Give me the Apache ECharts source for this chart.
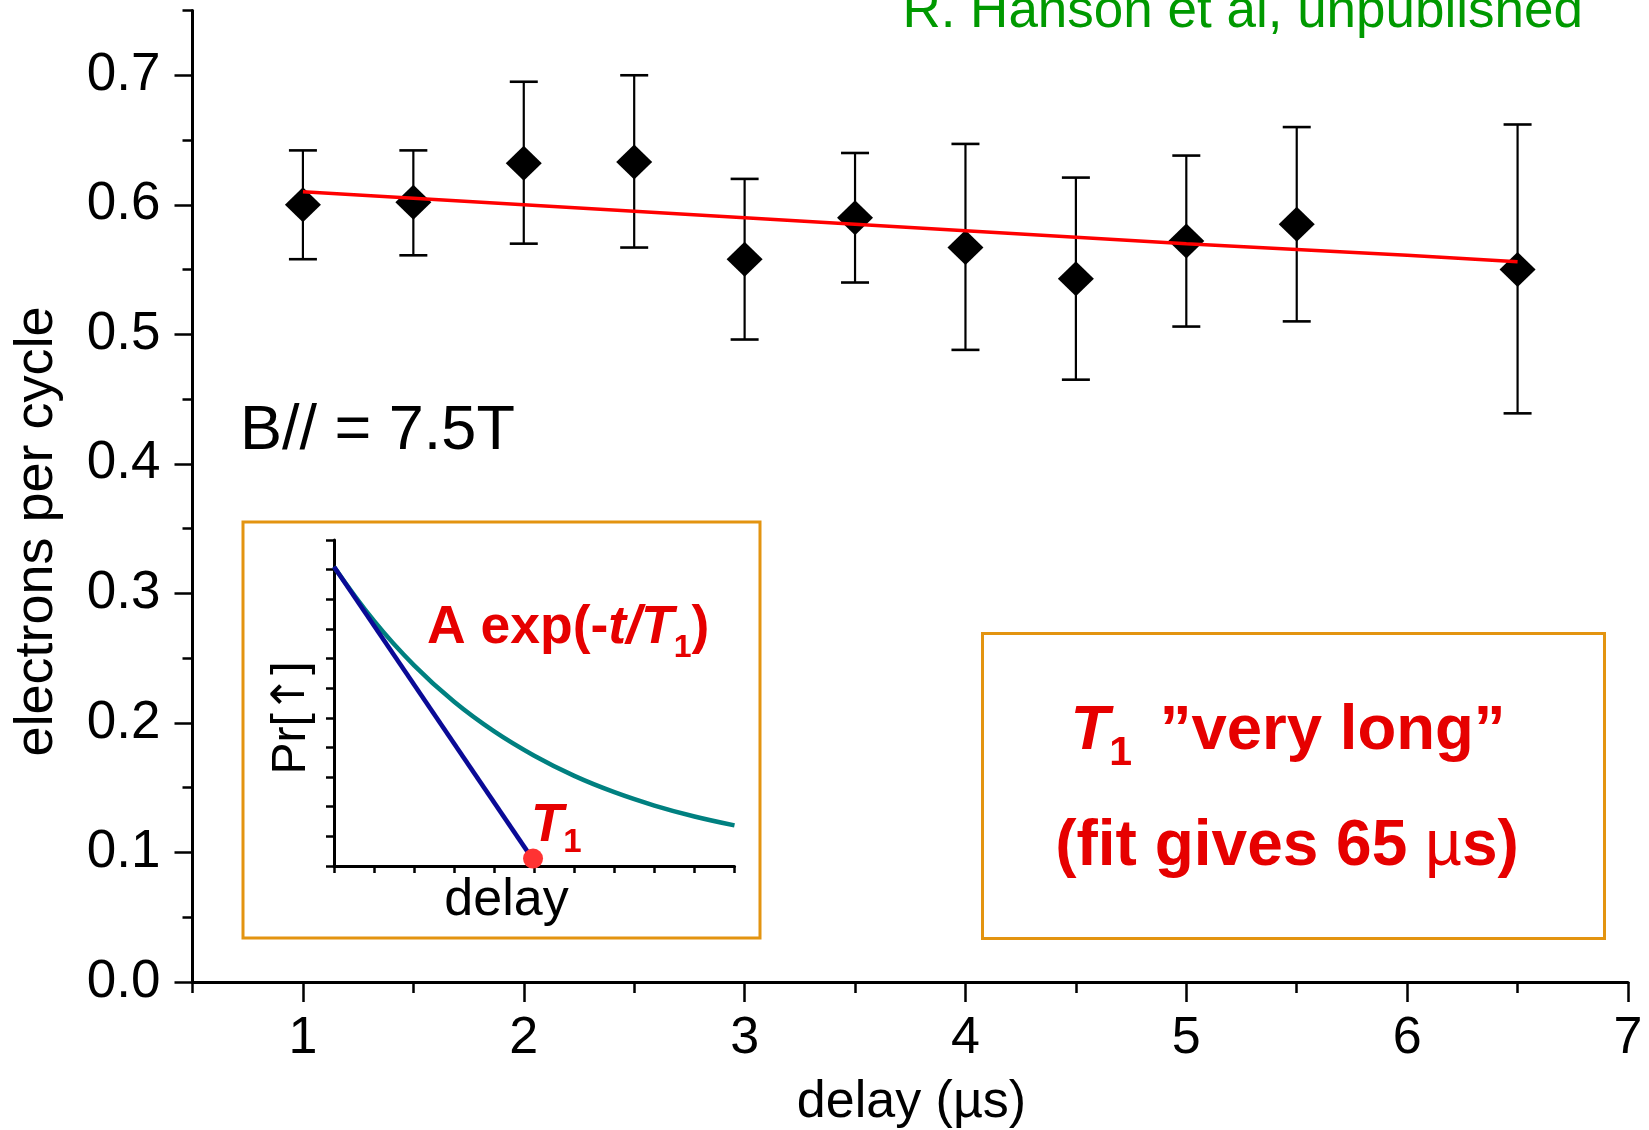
<!DOCTYPE html>
<html>
<head>
<meta charset="utf-8">
<script src="https://cdn.jsdelivr.net/npm/echarts@6/dist/echarts.min.js"></script>
<style>
  html, body { margin: 0; padding: 0; background: #fff; }
  #chart { width: 1649px; height: 1130px; }
</style>
</head>
<body>
<div id="chart"></div>
<script>
// ---------------- data ----------------
const delays     = [1, 1.5, 2, 2.5, 3, 3.5, 4, 4.5, 5, 5.5, 6.5];
const electrons  = [0.600, 0.602, 0.632, 0.633, 0.558, 0.590, 0.567, 0.543, 0.572, 0.585, 0.550];
const errUpper   = [0.642, 0.642, 0.695, 0.700, 0.620, 0.640, 0.647, 0.621, 0.638, 0.660, 0.662];
const errLower   = [0.558, 0.561, 0.570, 0.567, 0.496, 0.540, 0.488, 0.465, 0.506, 0.510, 0.439];

const fitX = [1, 2, 3, 4, 5, 6, 6.5];
const fitY = [0.610, 0.600, 0.590, 0.580, 0.570, 0.561, 0.556];

const xMajorTicks = [1, 2, 3, 4, 5, 6, 7];
const xMinorTicks = [0.5, 1.5, 2.5, 3.5, 4.5, 5.5, 6.5];
const yMajorTicks = [0, 0.1, 0.2, 0.3, 0.4, 0.5, 0.6, 0.7];
const yMinorTicks = [0.05, 0.15, 0.25, 0.35, 0.45, 0.55, 0.65, 0.75];

// inset (schematic) data
const insetX     = [0, 1, 2, 3, 4, 5, 6, 7, 8, 9, 10];
const insetTealY = [10.1, 8.27, 6.77, 5.54, 4.54, 3.72, 3.04, 2.49, 2.04, 1.67, 1.37];
const insetBlueX = [0, 4.9];
const insetBlueY = [10.1, 0.35];
const insetDot   = [4.97, 0.25];

// ---------------- helpers ----------------
const FONT = '"Liberation Sans", Arial, Helvetica, sans-serif';
const RED = '#e60000';
const ORANGE = '#e39410';
const K = 0.26; // baseline offset from text middle, in em
const mctx = document.createElement('canvas').getContext('2d');
function fontStr(p) {
  return (p.italic ? 'italic ' : '') + (p.bold ? 'bold ' : '') + p.size + 'px ' + (p.family || FONT);
}
// draws a sequence of text runs on one baseline
function runText(x, baseline, align, parts, color) {
  const widths = parts.map(p => { mctx.font = fontStr(p); return mctx.measureText(p.text).width + (p.gap || 0); });
  const total = widths.reduce((a, b) => a + b, 0);
  let cur = align === 'center' ? x - total / 2 : (align === 'right' ? x - total : x);
  const els = [];
  parts.forEach((p, i) => {
    els.push({
      type: 'text', z: 10,
      style: {
        text: p.text,
        x: cur + (p.gap || 0),
        y: baseline + (p.dy || 0) - K * p.size,
        font: fontStr(p),
        fill: p.color || color || '#000',
        align: 'left', textAlign: 'left',
        verticalAlign: 'middle', textVerticalAlign: 'middle'
      }
    });
    cur += widths[i];
  });
  return els;
}

const graphics = [].concat(
  // boxes
  [{ type: 'rect', z: 1, shape: { x: 243, y: 522, width: 517, height: 416 },
     style: { fill: 'none', stroke: ORANGE, lineWidth: 3 } },
   { type: 'rect', z: 1, shape: { x: 982.5, y: 633.5, width: 622, height: 305 },
     style: { fill: 'none', stroke: ORANGE, lineWidth: 3 } }],
  runText(1583, 26, 'right', [{ text: 'R. Hanson et al, unpublished', size: 53 }], '#009900'),
  runText(911.5, 1116, 'center', [{ text: 'delay (µs)', size: 52 }], '#000'),
  runText(240, 448, 'left', [{ text: 'B// = 7.5T', size: 63 }], '#000'),
  runText(427, 642, 'left', [
    { text: 'A exp(-', size: 53.5, bold: true },
    { text: 't/T', size: 53.5, bold: true, italic: true },
    { text: '1', size: 32, bold: true, dy: 14 },
    { text: ')', size: 53.5, bold: true }
  ], RED),
  runText(531, 840, 'left', [
    { text: 'T', size: 53, bold: true, italic: true },
    { text: '1', size: 33, bold: true, dy: 11 }
  ], RED),
  runText(506.5, 914, 'center', [{ text: 'delay', size: 52 }], '#000'),
  runText(1288, 748, 'center', [
    { text: 'T', size: 63.5, bold: true, italic: true },
    { text: '1', size: 41, bold: true, dy: 16 },
    { text: ' ”very long”', size: 63.5, bold: true, gap: 10 }
  ], RED),
  runText(1287, 864, 'center', [
    { text: '(fit gives 65 ', size: 64, bold: true },
    { text: 'µ', size: 64 },
    { text: 's)', size: 64, bold: true }
  ], RED),
  [{ type: 'text', z: 10, x: 37.5, y: 531.5, rotation: Math.PI / 2,
     style: { text: 'electrons per cycle', x: 0, y: 0, font: '54px ' + FONT, fill: '#000',
              align: 'center', textAlign: 'center', verticalAlign: 'middle', textVerticalAlign: 'middle' } },
   { type: 'text', z: 10, x: 292, y: 718, rotation: Math.PI / 2,
     style: { text: 'Pr[{a|↑}]', x: 0, y: 0, font: '48px ' + FONT, fill: '#000',
              rich: { a: { fontFamily: 'DejaVu Sans', fontSize: 46, fill: '#000', color: '#000' } },
              align: 'center', textAlign: 'center', verticalAlign: 'middle', textVerticalAlign: 'middle' } }]
);

// ---------------- chart ----------------
const chart = echarts.init(document.getElementById('chart'), null, { renderer: 'canvas' });
const axisLineStyle = { color: '#000', width: 3 };

const option = {
  animation: false,
  backgroundColor: '#fff',
  grid: [
    { left: 192.5, right: 21, top: 10.5, bottom: 148, show: false },
    { left: 334, top: 540, width: 400.5, height: 326, show: false }
  ],
  xAxis: [
    { type: 'value', gridIndex: 0, min: 0.5, max: 7, position: 'bottom',
      splitLine: { show: false },
      axisLine: { show: true, onZero: false, lineStyle: axisLineStyle },
      axisTick: { show: true, inside: false, length: 20, lineStyle: { color: '#000', width: 2.5 }, customValues: xMajorTicks },
      axisLabel: { show: true, margin: 31, fontSize: 52, fontFamily: FONT, color: '#000', customValues: xMajorTicks,
                   formatter: v => String(v) } },
    { type: 'value', gridIndex: 0, min: 0.5, max: 7, position: 'bottom',
      splitLine: { show: false },
      axisLine: { show: false, onZero: false },
      axisTick: { show: true, inside: false, length: 11, lineStyle: { color: '#000', width: 2.5 }, customValues: xMinorTicks },
      axisLabel: { show: false } },
    { type: 'value', gridIndex: 1, min: 0, max: 10, interval: 1, position: 'bottom',
      splitLine: { show: false },
      axisLine: { show: true, onZero: false, lineStyle: axisLineStyle },
      axisTick: { show: true, inside: false, length: 7, lineStyle: { color: '#000', width: 2.5 } },
      axisLabel: { show: false } }
  ],
  yAxis: [
    { type: 'value', gridIndex: 0, min: 0, max: 0.75, position: 'left',
      splitLine: { show: false },
      axisLine: { show: true, onZero: false, lineStyle: axisLineStyle },
      axisTick: { show: true, inside: false, length: 18, lineStyle: { color: '#000', width: 2.5 }, customValues: yMajorTicks },
      axisLabel: { show: true, margin: 32, fontSize: 53, fontFamily: FONT, color: '#000', customValues: yMajorTicks,
                   formatter: v => v.toFixed(1) } },
    { type: 'value', gridIndex: 0, min: 0, max: 0.75, position: 'left',
      splitLine: { show: false },
      axisLine: { show: false, onZero: false },
      axisTick: { show: true, inside: false, length: 10, lineStyle: { color: '#000', width: 2.5 }, customValues: yMinorTicks },
      axisLabel: { show: false } },
    { type: 'value', gridIndex: 1, min: 0, max: 11, interval: 1, position: 'left',
      splitLine: { show: false },
      axisLine: { show: true, onZero: false, lineStyle: axisLineStyle },
      axisTick: { show: true, inside: false, length: 8, lineStyle: { color: '#000', width: 2.5 } },
      axisLabel: { show: false } }
  ],
  series: [
    { type: 'custom', name: 'error', xAxisIndex: 0, yAxisIndex: 0, z: 2,
      data: delays.map((d, i) => [d, errLower[i], errUpper[i]]),
      renderItem: function (params, api) {
        const x = api.value(0);
        const lo = api.coord([x, api.value(1)]);
        const hi = api.coord([x, api.value(2)]);
        const hw = 14;
        return { type: 'group', children: [
          { type: 'line', shape: { x1: lo[0], y1: lo[1], x2: hi[0], y2: hi[1] }, style: { stroke: '#000', lineWidth: 2.2 } },
          { type: 'line', shape: { x1: hi[0] - hw, y1: hi[1], x2: hi[0] + hw, y2: hi[1] }, style: { stroke: '#000', lineWidth: 2.6 } },
          { type: 'line', shape: { x1: lo[0] - hw, y1: lo[1], x2: lo[0] + hw, y2: lo[1] }, style: { stroke: '#000', lineWidth: 2.6 } }
        ] };
      }
    },
    { type: 'scatter', name: 'data', xAxisIndex: 0, yAxisIndex: 0, z: 3,
      symbol: 'diamond', symbolSize: [36, 35],
      itemStyle: { color: '#000', opacity: 1 },
      emphasis: { disabled: true },
      data: delays.map((d, i) => [d, electrons[i]]) },
    { type: 'line', name: 'fit', xAxisIndex: 0, yAxisIndex: 0, z: 4,
      showSymbol: false, symbol: 'none',
      lineStyle: { color: '#ff0000', width: 3.5 },
      data: fitX.map((x, i) => [x, fitY[i]]) },
    { type: 'line', name: 'exp', xAxisIndex: 2, yAxisIndex: 2, z: 3,
      showSymbol: false, symbol: 'none', smooth: 0.4,
      lineStyle: { color: '#008080', width: 4.5 },
      data: insetX.map((x, i) => [x, insetTealY[i]]) },
    { type: 'line', name: 'tangent', xAxisIndex: 2, yAxisIndex: 2, z: 4,
      showSymbol: false, symbol: 'none',
      lineStyle: { color: '#0a0a96', width: 4.5 },
      data: insetBlueX.map((x, i) => [x, insetBlueY[i]]) },
    { type: 'scatter', name: 'T1', xAxisIndex: 2, yAxisIndex: 2, z: 5,
      symbol: 'circle', symbolSize: 20,
      itemStyle: { color: '#ff3333', opacity: 1 },
      emphasis: { disabled: true },
      data: [insetDot] }
  ],
  graphic: { elements: graphics }
};
chart.setOption(option);
</script>
</body>
</html>
